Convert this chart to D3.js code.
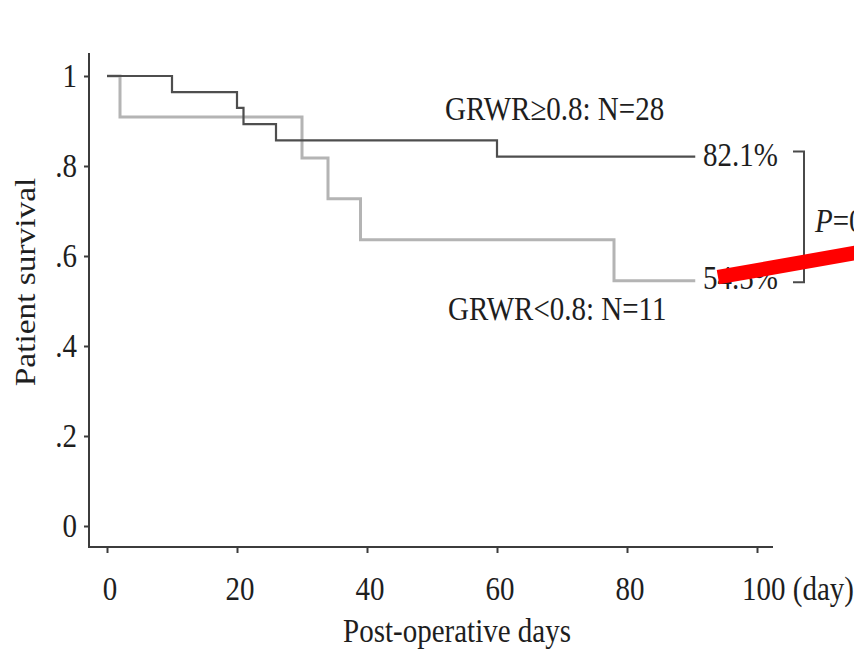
<!DOCTYPE html>
<html>
<head>
<meta charset="utf-8">
<script src="https://cdn.jsdelivr.net/npm/d3@7"></script>
<style>
  body { margin: 0; background: #fff; }
  svg { display: block; }
  text { font-family: "Liberation Serif", "Times New Roman", serif; fill: #1e1e1e; }
</style>
</head>
<body>
<div id="chart"></div>
<script>
// Kaplan-Meier steps
const highDays = [0, 10, 20, 21, 26, 60, 90.5];
const highSurv = [1, 0.964, 0.929, 0.893, 0.857, 0.821, 0.821];
const lowDays = [0, 2, 30, 34, 39, 78, 90.5];
const lowSurv = [1, 0.909, 0.818, 0.727, 0.636, 0.545, 0.545];

const xTicks = [0, 20, 40, 60, 80, 100];
const xTickLabels = ["0", "20", "40", "60", "80", "100 (day)"];
const yTicks = [0, 0.2, 0.4, 0.6, 0.8, 1];
const yTickLabels = ["0", ".2", ".4", ".6", ".8", "1"];

const groupLabels = ["GRWR\u22650.8: N=28", "GRWR<0.8: N=11"];
const endLabels = ["82.1%", "54.5%"];
const pLabel = "P=0.05";

// red marker stroke drawn over the picture (in data units)
const markDays = [94, 125];
const markSurv = [0.553, 0.632];

const width = 854, height = 657;
const stretch = 1.15; // the picture is squeezed sideways

const x = d3.scaleLinear().domain([0, 100]).range([107, 757]);
const y = d3.scaleLinear().domain([0, 1]).range([526, 76]);

const svg = d3.select("#chart").append("svg")
    .attr("width", width)
    .attr("height", height);

const axisColor = "#3c3c3c";

// axis lines (they run a little past the data range)
svg.append("line")
    .attr("x1", 89).attr("x2", 89)
    .attr("y1", 53).attr("y2", 548)
    .attr("stroke", axisColor).attr("stroke-width", 2);
svg.append("line")
    .attr("x1", 88).attr("x2", 773)
    .attr("y1", 547).attr("y2", 547)
    .attr("stroke", axisColor).attr("stroke-width", 2);

// y ticks: minor every .05, major every .2
const yAxisG = svg.append("g").attr("transform", "translate(89,0)");
yAxisG.call(d3.axisLeft(y).tickValues(d3.range(0, 1.001, 0.05)).tickSize(3).tickFormat(""));
yAxisG.call(d3.axisLeft(y).tickValues(yTicks).tickSize(5).tickFormat(""));
yAxisG.selectAll(".domain").remove();
yAxisG.selectAll(".tick line").attr("stroke", axisColor).attr("stroke-width", 2);

yTicks.forEach((v, i) => {
  svg.append("text")
      .attr("transform", "translate(77," + (y(v) + 11) + ") scale(1," + stretch + ")")
      .attr("text-anchor", "end")
      .attr("font-size", 29)
      .text(yTickLabels[i]);
});

// x ticks: minor every 5, major every 20
const xAxisG = svg.append("g").attr("transform", "translate(0,547)");
xAxisG.call(d3.axisBottom(x).tickValues(d3.range(0, 101, 5)).tickSize(3).tickFormat(""));
xAxisG.call(d3.axisBottom(x).tickValues(xTicks).tickSize(6).tickFormat(""));
xAxisG.selectAll(".domain").remove();
xAxisG.selectAll(".tick line").attr("stroke", axisColor).attr("stroke-width", 2);

xTicks.forEach((v, i) => {
  const last = i === xTicks.length - 1;
  svg.append("text")
      .attr("transform", "translate(" + (last ? x(v) - 15 : x(v) + 3) + ",600) scale(1," + stretch + ")")
      .attr("text-anchor", last ? "start" : "middle")
      .attr("font-size", 29)
      .text(xTickLabels[i]);
});

// axis titles
svg.append("text")
    .attr("transform", "translate(457,642) scale(1," + stretch + ")")
    .attr("text-anchor", "middle")
    .attr("font-size", 29)
    .text("Post-operative days");

svg.append("text")
    .attr("transform", "translate(35,282) scale(1," + stretch + ") rotate(-90)")
    .attr("text-anchor", "middle")
    .attr("font-size", 29)
    .text("Patient survival");

// survival curves
const step = d3.line()
    .x(d => x(d[0]))
    .y(d => y(d[1]))
    .curve(d3.curveStepAfter);

svg.append("path")
    .datum(d3.zip(lowDays, lowSurv))
    .attr("d", step)
    .attr("fill", "none")
    .attr("stroke", "#b4b4b4")
    .attr("stroke-width", 3);

svg.append("path")
    .datum(d3.zip(highDays, highSurv))
    .attr("d", step)
    .attr("fill", "none")
    .attr("stroke", "#4e4e4e")
    .attr("stroke-width", 2.2);

// group labels
svg.append("text")
    .attr("transform", "translate(445,120) scale(1," + stretch + ")")
    .attr("font-size", 29)
    .text(groupLabels[0]);
svg.append("text")
    .attr("transform", "translate(448,320) scale(1," + stretch + ")")
    .attr("font-size", 29)
    .text(groupLabels[1]);

// end-of-curve percentages
const lastHigh = highSurv[highSurv.length - 1];
const lastLow = lowSurv[lowSurv.length - 1];
svg.append("text")
    .attr("transform", "translate(703," + (y(lastHigh) + 9) + ") scale(1," + stretch + ")")
    .attr("font-size", 29)
    .text(endLabels[0]);
svg.append("text")
    .attr("transform", "translate(703," + (y(lastLow) + 8) + ") scale(1," + stretch + ")")
    .attr("font-size", 29)
    .text(endLabels[1]);

// bracket joining the two end values
svg.append("path")
    .attr("d", "M793," + (y(lastHigh) - 5) + "H804V" + (y(lastLow) + 1.5) + "H793")
    .attr("fill", "none")
    .attr("stroke", "#4a4a4a")
    .attr("stroke-width", 2);

svg.append("text")
    .attr("transform", "translate(815,232) scale(1," + stretch + ")")
    .attr("font-size", 29)
    .html("<tspan font-style='italic'>P</tspan>=0.05");

// red marker stroke
svg.append("line")
    .attr("x1", x(markDays[0])).attr("y1", y(markSurv[0]))
    .attr("x2", x(markDays[1])).attr("y2", y(markSurv[1]))
    .attr("stroke", "#ff0000")
    .attr("stroke-width", 14.5)
    .attr("stroke-linecap", "butt");
</script>
</body>
</html>
